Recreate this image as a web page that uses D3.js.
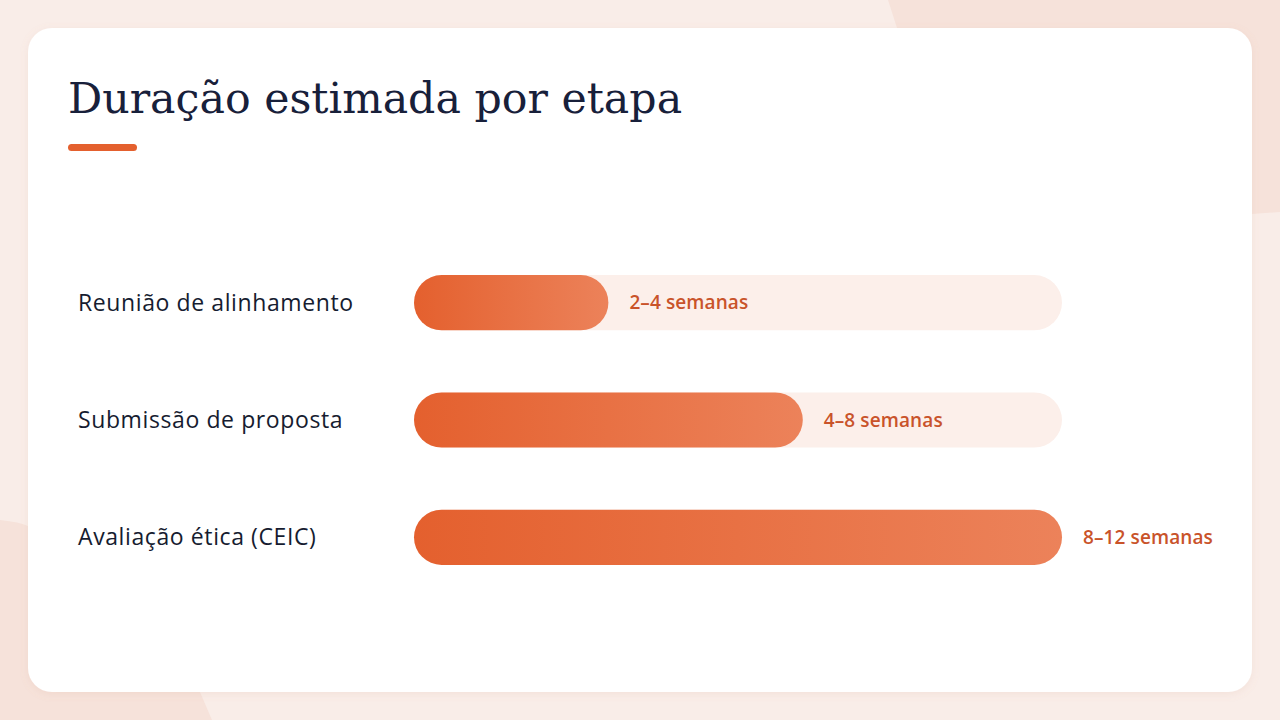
<!DOCTYPE html>
<html>
<head>
<meta charset="utf-8">
<script src="https://cdn.jsdelivr.net/npm/d3@7"></script>
<style>
  html, body { margin: 0; padding: 0; background: #f9ede8; }
  svg { display: block; }
</style>
</head>
<body>
<div id="chart"></div>
<script>
// Dados
const stages = ["Reunião de alinhamento", "Submissão de proposta", "Avaliação ética (CEIC)"];
const durations = [3, 6, 10]; // ponto médio em semanas
const durationLabels = ["2–4 semanas", "4–8 semanas", "8–12 semanas"];
const maxDuration = 10;

const W = 1280, H = 720;

const svg = d3.select("#chart").append("svg")
    .attr("width", W)
    .attr("height", H);

const defs = svg.append("defs");

// Gradiente das barras
const grad = defs.append("linearGradient")
    .attr("id", "barGrad")
    .attr("x1", "0%").attr("x2", "100%")
    .attr("y1", "0%").attr("y2", "0%");
grad.append("stop").attr("offset", "0%").attr("stop-color", "#e4602e");
grad.append("stop").attr("offset", "100%").attr("stop-color", "#ec825a");

// Sombra suave do cartão
const shadow = defs.append("filter").attr("id", "cardShadow")
    .attr("x", "-5%").attr("y", "-5%").attr("width", "110%").attr("height", "110%");
shadow.append("feDropShadow")
    .attr("dx", 0).attr("dy", 2).attr("stdDeviation", 4)
    .attr("flood-color", "#c98a70").attr("flood-opacity", 0.12);

// Fundo
svg.append("rect").attr("width", W).attr("height", H).attr("fill", "#f9ede8");
svg.append("path")
    .attr("d", "M888,0 L1280,0 L1280,212 L1252,214 L1252,60 Q1252,28 1220,28 L897,28 Z")
    .attr("fill", "#f6e2da");
svg.append("path")
    .attr("d", "M0,520 Q20,522 28,526 L28,660 Q28,692 60,692 L200,692 L212,720 L0,720 Z")
    .attr("fill", "#f6e2da");

// Cartão
svg.append("rect")
    .attr("x", 28).attr("y", 28)
    .attr("width", 1224).attr("height", 664)
    .attr("rx", 24)
    .attr("fill", "#ffffff")
    .attr("filter", "url(#cardShadow)");

// Título
svg.append("text")
    .attr("x", 68).attr("y", 113)
    .attr("font-family", "'DejaVu Serif', serif")
    .attr("font-size", 42.7)
    .attr("fill", "#18203a")
    .text("Duração estimada por etapa");

svg.append("rect")
    .attr("x", 68).attr("y", 144)
    .attr("width", 69).attr("height", 7)
    .attr("rx", 3.5)
    .attr("fill", "#e4602e");

// Escalas
const x = d3.scaleLinear()
    .domain([0, maxDuration])
    .range([414, 1062]);

const y = d3.scaleBand()
    .domain(stages)
    .range([244, 596])
    .paddingInner(0.53)
    .paddingOuter(0.265);

const bh = y.bandwidth();

const rows = svg.selectAll(".row")
    .data(stages)
    .enter().append("g")
    .attr("class", "row")
    .attr("transform", d => `translate(0,${y(d)})`);

// Trilho
rows.append("rect")
    .attr("x", x(0))
    .attr("width", x(maxDuration) - x(0))
    .attr("height", bh)
    .attr("rx", bh / 2)
    .attr("fill", "#fcefea");

// Barra
rows.append("rect")
    .attr("x", x(0))
    .attr("width", (d, i) => x(durations[i]) - x(0))
    .attr("height", bh)
    .attr("rx", bh / 2)
    .attr("fill", "url(#barGrad)");

// Rótulos das etapas
rows.append("text")
    .attr("x", 78)
    .attr("y", bh / 2)
    .attr("dy", "0.35em")
    .attr("font-family", "'Open Sans', 'Noto Sans', sans-serif")
    .attr("font-weight", 500)
    .attr("font-size", 23)
    .attr("letter-spacing", 0.6)
    .attr("fill", "#161c30")
    .text(d => d);

// Rótulos dos valores
rows.append("text")
    .attr("x", (d, i) => x(durations[i]) + 21)
    .attr("y", bh / 2)
    .attr("dy", "0.35em")
    .attr("font-family", "'Open Sans', 'Noto Sans', sans-serif")
    .attr("font-weight", 600)
    .attr("font-size", 19)
    .attr("letter-spacing", 0.1)
    .attr("fill", "#c9532a")
    .text((d, i) => durationLabels[i]);
</script>
</body>
</html>
